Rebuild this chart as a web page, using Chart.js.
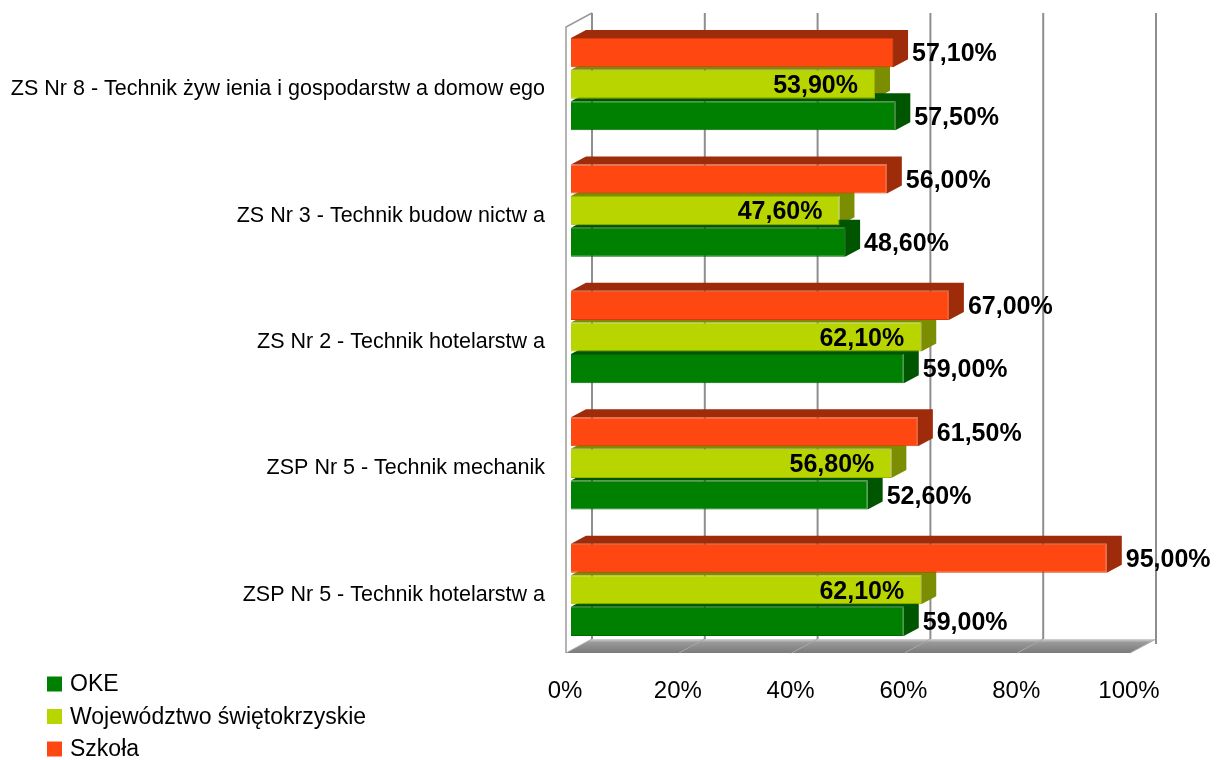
<!DOCTYPE html>
<html lang="pl">
<head>
<meta charset="utf-8">
<title>Wyniki egzaminu</title>
<script src="https://cdn.jsdelivr.net/npm/chart.js@4.4.1/dist/chart.umd.min.js"></script>
<style>
    html, body { margin: 0; padding: 0; background: #ffffff; }
    #wrap { width: 1216px; height: 760px; }
</style>
</head>
<body>
<div id="wrap"><canvas id="examChart" width="1216" height="760"></canvas></div>
<script>
// Data
const categories = [
    'ZS Nr 8 - Technik żyw ienia i gospodarstw a domow ego',
    'ZS Nr 3 - Technik budow nictw a',
    'ZS Nr 2 - Technik hotelarstw a',
    'ZSP Nr 5 - Technik mechanik',
    'ZSP Nr 5 - Technik hotelarstw a'
];
const szkola = [57.1, 56.0, 67.0, 61.5, 95.0];
const wojewodztwo = [53.9, 47.6, 62.1, 56.8, 62.1];
const oke = [57.5, 48.6, 59.0, 52.6, 59.0];
const xTicks = [0, 20, 40, 60, 80, 100];

const FONT = "'Liberation Sans', Arial, sans-serif";

// 3D look: bars get a top and a side face, the plot gets a back wall and a floor
const BAR_DX = 15, BAR_DY = -8;
const WALL_DX = 26, WALL_DY = -14;

const threeD = {
    id: 'threeD',
    beforeDatasetsDraw(chart) {
        const { ctx, chartArea: a, scales: { x } } = chart;
        const front = v => x.getPixelForValue(v) - 5;
        const back = v => front(v) + WALL_DX;
        const floorY = a.bottom;
        const backY = a.bottom + WALL_DY;
        const topY = a.top - 8;

        ctx.save();
        // floor
        const g = ctx.createLinearGradient(0, backY, 0, floorY);
        g.addColorStop(0, '#d4d4d4');
        g.addColorStop(0.25, '#999999');
        g.addColorStop(1, '#7a7a7a');
        ctx.fillStyle = g;
        ctx.beginPath();
        ctx.moveTo(front(0), floorY);
        ctx.lineTo(front(100), floorY);
        ctx.lineTo(back(100), backY);
        ctx.lineTo(back(0), backY);
        ctx.closePath();
        ctx.fill();

        // grid lines on the floor
        ctx.strokeStyle = '#a8a8a8';
        ctx.lineWidth = 1;
        xTicks.forEach(v => {
            ctx.beginPath();
            ctx.moveTo(front(v), floorY);
            ctx.lineTo(back(v), backY);
            ctx.stroke();
        });

        // left wall
        ctx.strokeStyle = '#9a9a9a';
        ctx.lineWidth = 1.5;
        ctx.beginPath();
        ctx.moveTo(front(0), floorY);
        ctx.lineTo(front(0), topY - WALL_DY);
        ctx.lineTo(back(0), topY);
        ctx.stroke();

        // back wall grid lines
        ctx.strokeStyle = '#8e8e8e';
        ctx.lineWidth = 2;
        xTicks.forEach(v => {
            ctx.beginPath();
            ctx.moveTo(back(v), topY);
            ctx.lineTo(back(v), backY + (v === 100 ? 5 : 0));
            ctx.stroke();
        });

        // top and side faces of each bar
        chart.data.datasets.forEach((ds, i) => {
            const meta = chart.getDatasetMeta(i);
            meta.data.forEach(bar => {
                const { x: end, y, base, height } = bar.getProps(['x', 'y', 'base', 'height'], true);
                const t = y - height / 2, b = y + height / 2;
                ctx.fillStyle = ds.sideColor;
                ctx.beginPath();
                ctx.moveTo(base, t);
                ctx.lineTo(end, t);
                ctx.lineTo(end, b);
                ctx.lineTo(end + BAR_DX, b + BAR_DY);
                ctx.lineTo(end + BAR_DX, t + BAR_DY);
                ctx.lineTo(base + BAR_DX, t + BAR_DY);
                ctx.closePath();
                ctx.fill();
            });
        });
        ctx.restore();
    },
    afterDatasetsDraw(chart) {
        const { ctx } = chart;
        ctx.save();
        ctx.font = 'bold 25px ' + FONT;
        ctx.fillStyle = '#000000';
        ctx.textBaseline = 'middle';
        chart.data.datasets.forEach((ds, i) => {
            const meta = chart.getDatasetMeta(i);
            meta.data.forEach((bar, j) => {
                const txt = ds.data[j].toFixed(2).replace('.', ',') + '%';
                if (ds.labelInside) {
                    ctx.textAlign = 'right';
                    ctx.fillText(txt, bar.x - 17, bar.y + 2);
                } else {
                    ctx.textAlign = 'left';
                    ctx.fillText(txt, bar.x + 19, bar.y + 2);
                }
            });
        });
        ctx.restore();
    }
};

// legend at the bottom left, listed from the lowest bar up
const legendLeft = {
    id: 'legendLeft',
    afterDraw(chart) {
        const { ctx } = chart;
        const items = chart.data.datasets.slice().reverse();
        ctx.save();
        ctx.font = '23px ' + FONT;
        ctx.textBaseline = 'middle';
        ctx.textAlign = 'left';
        items.forEach((ds, i) => {
            const cy = 684 + i * 32.5;
            ctx.fillStyle = ds.backgroundColor;
            ctx.fillRect(47, cy - 7.5, 15, 15);
            ctx.fillStyle = '#000000';
            ctx.fillText(ds.label, 70, cy + 1);
        });
        ctx.restore();
    }
};

const ctx = document.getElementById('examChart').getContext('2d');
const examChart = new Chart(ctx, {
    type: 'bar',
    data: {
        labels: categories,
        datasets: [
            {
                label: 'Szkoła',
                data: szkola,
                backgroundColor: '#ff4811',
                borderColor: '#d63a0c',
                sideColor: '#9e2b0a',
                labelInside: false
            },
            {
                label: 'Województwo świętokrzyskie',
                data: wojewodztwo,
                backgroundColor: '#b8d500',
                borderColor: '#9cb400',
                sideColor: '#7b8d00',
                labelInside: true
            },
            {
                label: 'OKE',
                data: oke,
                backgroundColor: '#008000',
                borderColor: '#006800',
                sideColor: '#005500',
                labelInside: false
            }
        ]
    },
    options: {
        indexAxis: 'y',
        responsive: false,
        animation: false,
        devicePixelRatio: 1,
        categoryPercentage: 0.75,
        barPercentage: 0.92,
        borderWidth: 1,
        layout: { padding: { top: 21, right: 81, left: 0, bottom: 0 } },
        plugins: {
            legend: { display: false },
            tooltip: { enabled: false }
        },
        scales: {
            x: {
                min: 0,
                max: 100,
                afterFit: scale => {
                    scale.height = 107;
                    scale.paddingLeft = 0;
                    scale.paddingRight = 0;
                },
                afterBuildTicks: scale => { scale.ticks = xTicks.map(v => ({ value: v })); },
                grid: { display: false, drawTicks: false },
                border: { display: false },
                ticks: {
                    padding: 24,
                    labelOffset: -6,
                    color: '#000000',
                    font: { family: FONT, size: 24 },
                    callback: v => v + '%'
                }
            },
            y: {
                afterFit: scale => {
                    scale.width = 571;
                    scale.paddingTop = 0;
                    scale.paddingBottom = 0;
                },
                grid: { display: false, drawTicks: false },
                border: { display: false },
                ticks: {
                    padding: 26,
                    labelOffset: 5,
                    color: '#000000',
                    font: { family: FONT, size: 21.5 }
                }
            }
        }
    },
    plugins: [threeD, legendLeft]
});
</script>
</body>
</html>
